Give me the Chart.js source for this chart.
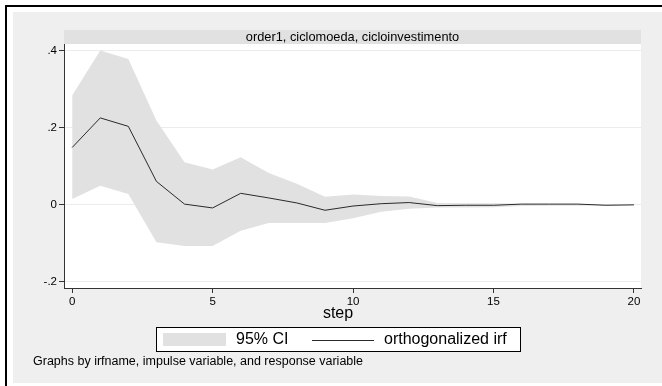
<!DOCTYPE html>
<html>
<head>
<meta charset="utf-8">
<script src="https://cdn.jsdelivr.net/npm/chart.js@4"></script>
<style>
  html, body { margin: 0; padding: 0; background: #fff; }
  #irf { display: block; }
</style>
</head>
<body>
<canvas id="irf" width="662" height="386"></canvas>
<script>
const steps    = [0,1,2,3,4,5,6,7,8,9,10,11,12,13,14,15,16,17,18,19,20]
const irf      = [0.149,0.226,0.204,0.061,0.002,-0.008,0.030,0.018,0.005,-0.014,-0.003,0.003,0.006,-0.002,-0.001,-0.001,0.002,0.002,0.002,-0.001,0.000]
const ciUpper  = [0.284,0.401,0.379,0.219,0.111,0.092,0.124,0.083,0.055,0.021,0.027,0.023,0.022,0.005,0.004,0.004,0.003,0.002,0.002,0.001,0.000]
const ciLower  = [0.015,0.050,0.028,-0.097,-0.107,-0.107,-0.067,-0.047,-0.047,-0.047,-0.035,-0.018,-0.010,-0.007,-0.007,-0.006,-0.003,-0.002,-0.002,-0.001,0.000]
const xTicks   = [0,5,10,15,20]
const yTicks   = [-0.2,0,0.2,0.4]
const panelTitle = 'order1, ciclomoeda, cicloinvestimento'
const xTitle     = 'step'
const note       = 'Graphs by irfname, impulse variable, and response variable'

const FONT = '"Liberation Sans", Arial, sans-serif'
const CI_FILL = '#e1e1e1'
const LINE = '#2a2a2a'
const AXIS = '#333333'

const pts = arr => steps.map((s, i) => ({ x: s, y: arr[i] }))
const fmtY = v => v === 0 ? '0' : (v < 0 ? '-' : '') + String(Math.abs(v)).replace(/^0/, '')

// stata look: frame, panel strip, note, legend box
const stataFrame = {
  id: 'stataFrame',
  beforeDraw(chart) {
    const { ctx, chartArea: a } = chart
    ctx.save()
    ctx.fillStyle = '#fff'
    ctx.fillRect(0, 0, chart.width, chart.height)
    ctx.fillStyle = '#000'
    ctx.fillRect(5, 5, chart.width - 5, 2)
    ctx.fillRect(5, 5, 2, chart.height - 5)
    ctx.fillStyle = '#efefef'
    ctx.fillRect(13, 12, chart.width - 13, 371)
    ctx.fillStyle = '#fff'
    ctx.fillRect(a.left, a.top, a.right - a.left, a.bottom - a.top)
    // panel strip
    ctx.fillStyle = '#e1e1e1'
    ctx.fillRect(a.left, 30, a.right - a.left, 14)
    ctx.fillStyle = '#000'
    ctx.font = '12.8px ' + FONT
    ctx.textAlign = 'center'
    ctx.textBaseline = 'middle'
    ctx.fillText(panelTitle, (a.left + a.right) / 2, 37.5)
    ctx.restore()
  },
  afterDraw(chart) {
    const { ctx } = chart
    const ds = chart.data.datasets
    ctx.save()
    ctx.fillStyle = '#000'
    ctx.textBaseline = 'middle'
    ctx.textAlign = 'center'
    ctx.font = '16px ' + FONT
    ctx.fillText(xTitle, 338, 314)

    // legend
    ctx.fillStyle = '#fff'
    ctx.fillRect(156, 327, 364, 24)
    ctx.strokeStyle = '#000'
    ctx.lineWidth = 1
    ctx.strokeRect(156.5, 327.5, 364, 24)
    ctx.fillStyle = ds[1].backgroundColor
    ctx.fillRect(163, 333, 63, 13)
    ctx.fillStyle = '#000'
    ctx.textAlign = 'left'
    ctx.fillText(ds[1].label, 236, 340)
    ctx.strokeStyle = ds[2].borderColor
    ctx.beginPath()
    ctx.moveTo(312, 340.5)
    ctx.lineTo(374, 340.5)
    ctx.stroke()
    ctx.fillText(ds[2].label, 384, 340)

    ctx.font = '12.5px ' + FONT
    ctx.fillText(note, 33, 362)
    ctx.restore()
  }
}

new Chart(document.getElementById('irf'), {
  type: 'line',
  data: {
    datasets: [
      { label: 'lower', data: pts(ciLower), borderWidth: 0, pointRadius: 0, fill: false, order: 2 },
      { label: '95% CI', data: pts(ciUpper), borderWidth: 0, pointRadius: 0, fill: '-1', backgroundColor: CI_FILL, order: 2 },
      { label: 'orthogonalized irf', data: pts(irf), borderColor: LINE, borderWidth: 1, pointRadius: 0, fill: false, order: 1 }
    ]
  },
  options: {
    responsive: false,
    animation: false,
    devicePixelRatio: 1,
    layout: { padding: { left: 13, right: 21, top: 44, bottom: 0 } },
    plugins: { legend: { display: false }, tooltip: { enabled: false } },
    elements: { line: { tension: 0 } },
    scales: {
      x: {
        type: 'linear', min: -0.29, max: 20.25,
        afterBuildTicks: s => { s.ticks = xTicks.map(v => ({ value: v })) },
        afterFit: s => { s.height = 98 },
        grid: { drawOnChartArea: false, tickLength: 5, tickColor: AXIS },
        border: { color: AXIS, width: 1 },
        ticks: { color: '#000', padding: 2, maxRotation: 0, font: { family: FONT, size: 11.5 } }
      },
      y: {
        min: -0.216, max: 0.418,
        afterBuildTicks: s => { s.ticks = yTicks.map(v => ({ value: v })) },
        afterFit: s => { s.width = 51 },
        grid: { color: '#ececec', tickLength: 5, tickColor: AXIS },
        border: { color: AXIS, width: 1 },
        ticks: { color: '#000', padding: 2, font: { family: FONT, size: 11.5 }, callback: v => fmtY(Math.round(v * 10) / 10) }
      }
    }
  },
  plugins: [stataFrame]
})
</script>
</body>
</html>
